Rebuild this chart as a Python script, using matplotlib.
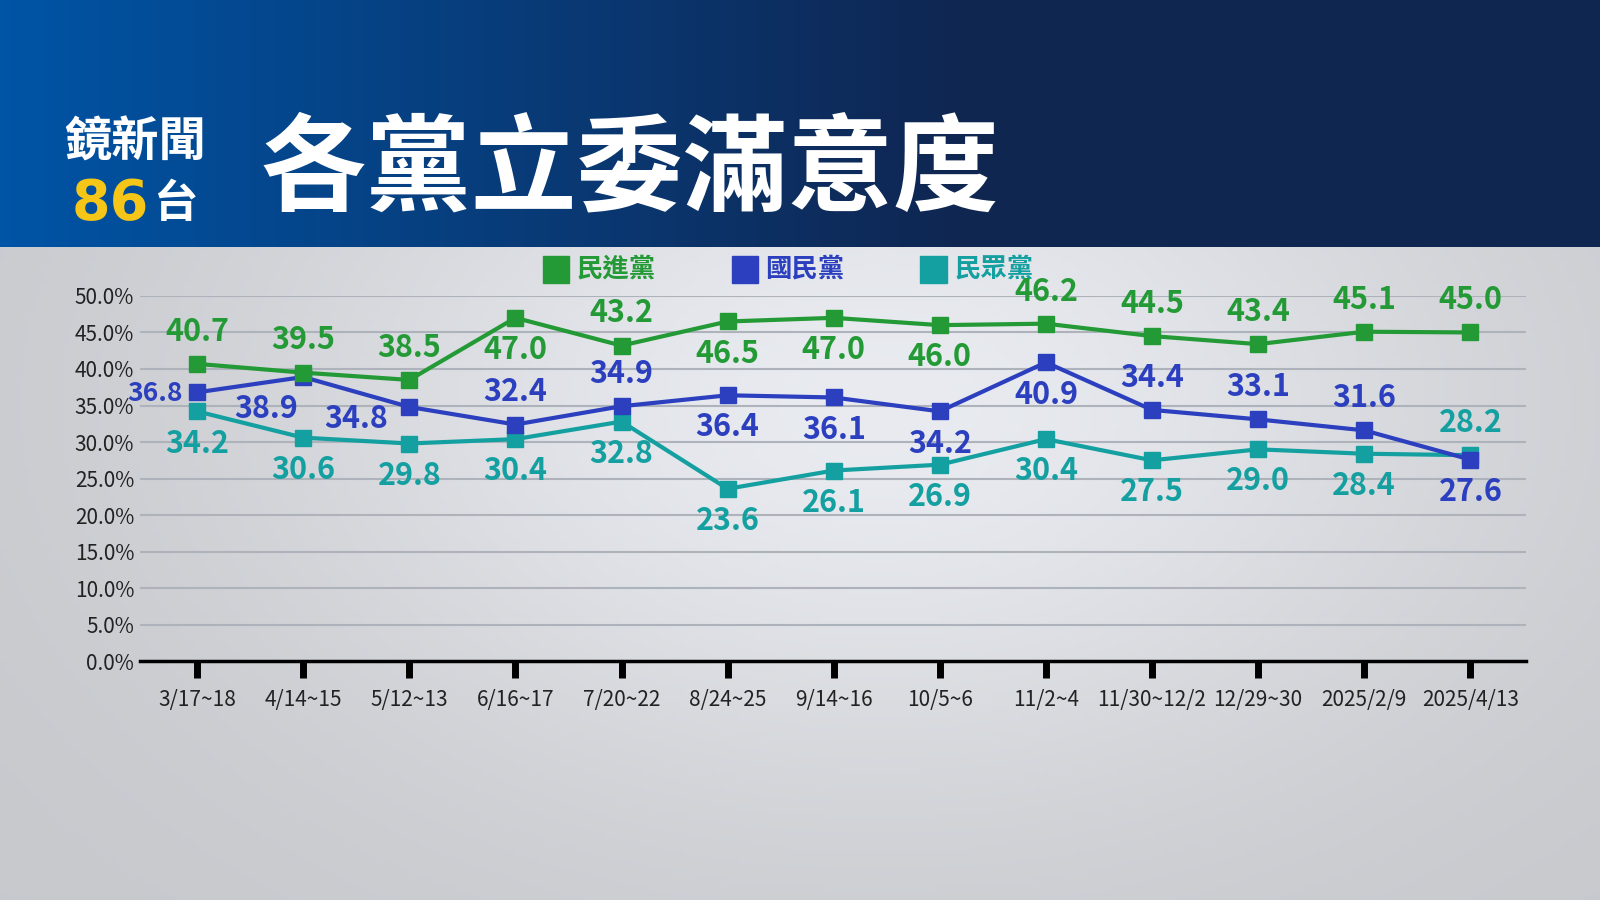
import numpy as np
import matplotlib
matplotlib.use("Agg")
import matplotlib.pyplot as plt

plt.rcParams['font.family'] = ['Noto Sans CJK TC', 'DejaVu Sans']

categories = ["3/17~18","4/14~15","5/12~13","6/16~17","7/20~22","8/24~25","9/14~16",
              "10/5~6","11/2~4","11/30~12/2","12/29~30","2025/2/9","2025/4/13"]
dpp = [40.7,39.5,38.5,47.0,43.2,46.5,47.0,46.0,46.2,44.5,43.4,45.1,45.0]
kmt = [36.8,38.9,34.8,32.4,34.9,36.4,36.1,34.2,40.9,34.4,33.1,31.6,27.6]
tpp = [34.2,30.6,29.8,30.4,32.8,23.6,26.1,26.9,30.4,27.5,29.0,28.4,28.2]
series_names = ["民進黨","國民黨","民眾黨"]
colors = ["#239a35","#2b3fbf","#14a0a0"]
# label placement: +1 above, -1 below, 0 left
dpp_pos = [1,1,1,-1,1,-1,-1,-1,1,1,1,1,1]
kmt_pos = [0,-1,-1,1,1,-1,-1,-1,-1,1,1,1,-1]
tpp_pos = [-1,-1,-1,-1,-1,-1,-1,-1,-1,-1,-1,-1,1]

W, H = 1568, 882
fig = plt.figure(figsize=(16, 9), dpi=100)

bg = fig.add_axes([0, 0, 1, 1]); bg.set_axis_off()
yy, xx = np.mgrid[0:1:200j, 0:1:320j]
g = 0.80 + 0.14*np.exp(-((xx-0.55)**2/0.15 + (yy-0.45)**2/0.2))
img = np.dstack([g*0.97, g*0.98, g*1.0]).clip(0, 1)
bg.imshow(img, extent=[0, 1, 0, 1], aspect='auto')
hx = np.linspace(0, 1, 320)
t = np.clip(hx/0.6, 0, 1)[:, None]
hg = np.array([[0.0, 0.33, 0.65]]) * (1 - t) + np.array([[0.06, 0.15, 0.32]]) * t
bg.imshow(hg[None, :, :], extent=[0, 1, 1-242/H, 1], aspect='auto')
bg.set_xlim(0, 1); bg.set_ylim(0, 1)
bg.text(132/W, 1-140/H, "鏡新聞", color="white", fontsize=34, fontweight="bold", ha="center", va="center")
bg.text(108/W, 1-200/H, "86", color="#f5c518", fontsize=40, fontweight="bold", ha="center", va="center", family="DejaVu Sans")
bg.text(172/W, 1-200/H, "台", color="white", fontsize=32, fontweight="bold", ha="center", va="center")
bg.text(255/W, 1-168/H, "各黨立委滿意度", color="white", fontsize=76, fontweight="bold", ha="left", va="center")

ax = fig.add_axes([137/W, 1-648/H, (1495-137)/W, (648-290)/H])
ax.patch.set_alpha(0)
x = np.arange(len(categories))
ax.set_xlim(-0.54, 12.52)
ax.set_ylim(0, 50)
yt = np.arange(0, 51, 5)
ax.set_yticks(yt)
ax.set_yticklabels([f"{v:.1f}%" for v in yt], fontsize=15, color="#222")
for v in yt[1:]:
    ax.axhline(v, color="#aeb3bb", lw=1.5, zorder=0)
for s in ["top", "right", "left"]:
    ax.spines[s].set_visible(False)
ax.spines["bottom"].set_linewidth(2.5)
ax.tick_params(axis="y", length=0, pad=4)
ax.set_xticks(x)
ax.set_xticklabels(categories, fontsize=15, color="#222")
ax.tick_params(axis="x", length=12, width=5, color="black", pad=8)

dx_kmt = {1: -0.35, 2: -0.5}
for name, vals, pos, c in [("t", tpp, tpp_pos, colors[2]), ("k", kmt, kmt_pos, colors[1]), ("d", dpp, dpp_pos, colors[0])]:
    ax.plot(x, vals, color=c, lw=3, marker="s", ms=12, clip_on=False)
    for xi, v, p in zip(x, vals, pos):
        if p == 0:
            ax.text(xi-0.4, v-0.2, f"{v:.1f}", color=c, fontsize=19, fontweight="bold", ha="center", va="center")
        else:
            dx = dx_kmt.get(xi, 0) if name == "k" else 0
            dy = -1.6 if (name == "k" and xi == 2) else p*4.4
            ax.text(xi+dx, v + dy, f"{v:.1f}", color=c, fontsize=22, fontweight="bold", ha="center", va="center")

for lx, name, c in [(545, series_names[0], colors[0]), (730, series_names[1], colors[1]), (915, series_names[2], colors[2])]:
    bg.add_patch(plt.Rectangle(((lx-13)/W, 1-277/H), 26/W, 26/H, color=c, transform=bg.transAxes))
    bg.text((lx+20)/W, 1-264/H, name, color=c, fontsize=19, fontweight="bold", ha="left", va="center")

fig.savefig("out.png", dpi=100)
